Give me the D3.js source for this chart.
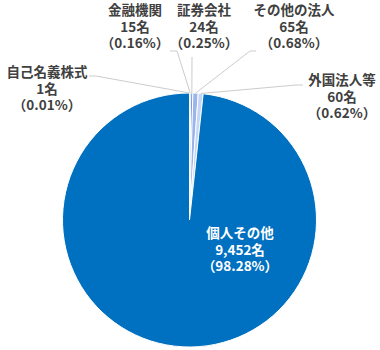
<!DOCTYPE html>
<html>
<head>
<meta charset="utf-8">
<script src="https://cdn.jsdelivr.net/npm/d3@7"></script>
<style>
  body { margin: 0; background: #fff; }
  svg text { font-family: "Noto Sans CJK JP", "Noto Sans", sans-serif; font-weight: bold; font-size: 13.5px; }
</style>
</head>
<body>
<div id="chart"></div>
<script>
const categories = ['自己名義株式', '金融機関', '証券会社', 'その他の法人', '外国法人等', '個人その他']
const counts = ['1名', '15名', '24名', '65名', '60名', '9,452名']
const percents = [0.01, 0.16, 0.25, 0.68, 0.62, 98.28]
const colors = ['#1f3a80', '#2e4f9e', '#5b7fd4', '#9ab4ec', '#c5d5f5', '#0070c0']

// label placement: [x, y of first line, leader start x, leader start y, elbow x]
const labelPos = [
  [47, 72, 89, 76, 96],
  [135, 10, 170, 51, 177],
  [204, 10, 192, 57, 192],
  [294, 10, 256, 51, 250],
  [342, 80, 303, 85, 296],
  [240, 233, null, null, null]
]

const width = 380
const height = 350
const cx = 189.5
const cy = 220
const r = 127
const lineH = 16.8

const svg = d3.select('#chart')
  .append('svg')
  .attr('width', width)
  .attr('height', height)

const pie = d3.pie().sort(null).value(d => d)
const arcs = pie(percents)
const arc = d3.arc().innerRadius(0).outerRadius(r)
const edge = d3.arc().innerRadius(r).outerRadius(r)

const g = svg.append('g').attr('transform', `translate(${cx},${cy})`)

g.selectAll('path.slice')
  .data(arcs)
  .join('path')
  .attr('class', 'slice')
  .attr('d', arc)
  .attr('fill', (d, i) => colors[i])
  .attr('stroke', '#fff')
  .attr('stroke-width', 1)

// leader lines
arcs.forEach((d, i) => {
  const p = labelPos[i]
  if (p[2] === null) return
  const [ex, ey] = edge.centroid(d)
  const pts = [[p[2], p[3]], [p[4], p[3]], [ex + cx, ey + cy]]
  svg.append('path')
    .attr('d', d3.line()(pts))
    .attr('fill', 'none')
    .attr('stroke', '#cccccc')
    .attr('stroke-width', 1)
})

// labels
categories.forEach((c, i) => {
  const p = labelPos[i]
  const inside = i === categories.length - 1
  const t = svg.append('text')
    .attr('text-anchor', 'middle')
    .attr('fill', inside ? '#fff' : '#404040')
  const lines = [c, counts[i], `（${percents[i].toFixed(2)}%）`]
  lines.forEach((s, j) => {
    t.append('tspan')
      .attr('x', p[0])
      .attr('y', p[1] + j * lineH)
      .attr('dy', '0.35em')
      .text(s)
  })
})
</script>
</body>
</html>
